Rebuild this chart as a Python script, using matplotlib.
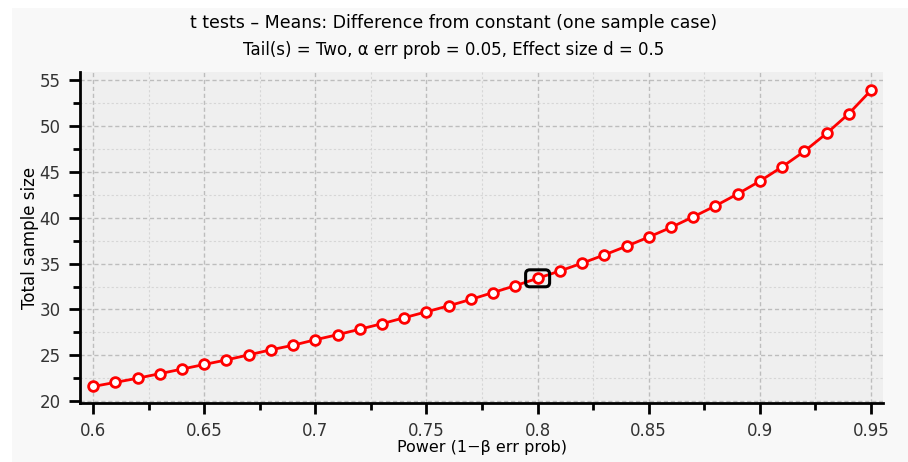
import matplotlib
matplotlib.use("Agg")
import matplotlib.pyplot as plt
import matplotlib.patches as mpatches
from matplotlib.ticker import MultipleLocator

# power values and the total sample size needed for each
power = [0.60, 0.61, 0.62, 0.63, 0.64, 0.65, 0.66, 0.67, 0.68, 0.69,
         0.70, 0.71, 0.72, 0.73, 0.74, 0.75, 0.76, 0.77, 0.78, 0.79,
         0.80, 0.81, 0.82, 0.83, 0.84, 0.85, 0.86, 0.87, 0.88, 0.89,
         0.90, 0.91, 0.92, 0.93, 0.94, 0.95]
total_n = [21.6, 22.05, 22.5, 23.0, 23.5, 24.0, 24.5, 25.05, 25.6, 26.1,
           26.7, 27.25, 27.85, 28.45, 29.1, 29.75, 30.4, 31.1, 31.85, 32.6,
           33.4, 34.2, 35.05, 35.95, 36.9, 37.9, 38.95, 40.1, 41.3, 42.6,
           44.0, 45.55, 47.25, 49.2, 51.35, 53.9]
x_ticks = [0.6, 0.65, 0.7, 0.75, 0.8, 0.85, 0.9, 0.95]
x_ticklabels = ["0.6", "0.65", "0.7", "0.75", "0.8", "0.85", "0.9", "0.95"]
selected_power = 0.80
selected_n = 33.4

plt.rcParams['font.family'] = ['DejaVu Sans']

fig = plt.figure(figsize=(9.08, 4.62), dpi=100, facecolor="white")
fig.patches.append(mpatches.Rectangle((12 / 908, 0), 1, 1 - 8 / 462,
                                      transform=fig.transFigure,
                                      facecolor="#f8f8f8", edgecolor="none", zorder=-10))
ax = fig.add_axes([80 / 908, 59 / 462, 803 / 908, 331 / 462])
ax.set_facecolor("#efefef")

ax.plot(power, total_n, color="#ff0000", lw=2, marker="o", markersize=7,
        markerfacecolor="white", markeredgecolor="#ff0000", markeredgewidth=2,
        zorder=3)

# box round the selected point
w, h = 0.0108, 1.85
box = mpatches.FancyBboxPatch((selected_power - w / 2, selected_n - h / 2), w, h,
                              boxstyle="round,pad=0,rounding_size=0.0019",
                              mutation_aspect=240, facecolor="none",
                              edgecolor="black", lw=2.2, zorder=4)
ax.add_patch(box)

ax.set_xlim(0.5941, 0.9554)
ax.set_ylim(19.8, 55.9)
ax.set_xticks(x_ticks)
ax.set_xticklabels(x_ticklabels)
ax.xaxis.set_minor_locator(MultipleLocator(0.025))
ax.yaxis.set_major_locator(MultipleLocator(5))
ax.yaxis.set_minor_locator(MultipleLocator(2.5))

ax.grid(which="major", color="#bdbdbd", ls=(0, (3, 2)), lw=1)
ax.grid(which="minor", color="#d6d6d6", ls=(0, (2, 2)), lw=0.8)
ax.set_axisbelow(True)

for s in ["top", "right"]:
    ax.spines[s].set_visible(False)
for s in ["left", "bottom"]:
    ax.spines[s].set_linewidth(2)
ax.tick_params(which="major", direction="out", length=8, width=2, color="black",
               labelsize=12, labelcolor="#333333", pad=6)
ax.tick_params(which="minor", direction="out", length=5, width=2, color="black")

ax.set_xlabel("Power (1\u2212\u03b2 err prob)", fontsize=11.5, labelpad=0)
ax.set_ylabel("Total sample size", fontsize=12, labelpad=0)

fig.text(0.5, 1 - 23 / 462, "t tests \u2013 Means: Difference from constant (one sample case)",
         ha="center", va="center", fontsize=12.5)
fig.text(0.5, 1 - 50 / 462, "Tail(s) = Two, \u03b1 err prob = 0.05, Effect size d = 0.5",
         ha="center", va="center", fontsize=12)

fig.savefig("out.png", dpi=100, facecolor=fig.get_facecolor())
